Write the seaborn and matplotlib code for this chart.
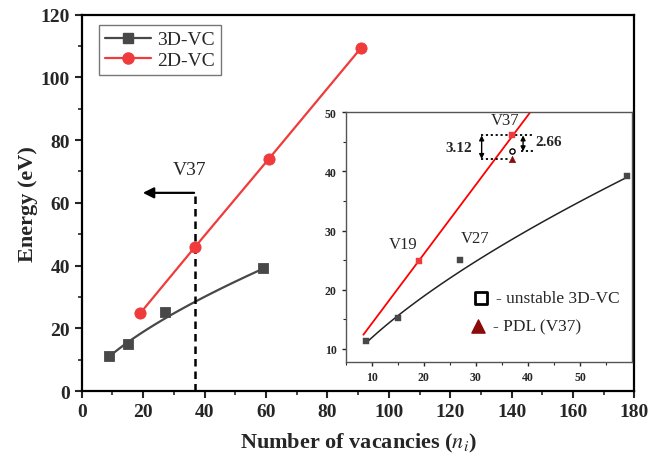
import numpy as np
import pandas as pd
import matplotlib
matplotlib.use("Agg")
import matplotlib.pyplot as plt
from matplotlib.lines import Line2D
import seaborn as sns

# ---- data ----
n_3d = [9, 15, 27, 59]
e_3d = [11.3, 15.2, 25.1, 39.3]
n_2d = [19, 37, 61, 91]
e_2d = [24.8, 46.1, 74.1, 109.4]
fit_3d_idx = [0, 1, 3]          # V27 (unstable) not used in the fit
pdl_n, pdl_e = [37], [42.1]     # PDL (V37)
unst_n, unst_e = [37], [43.4]   # unstable marker at V37
inset_2d_n = [19, 37]
inset_2d_e = [24.8, 46.1]
gap_labels = ["3.12", "2.66"]
main_xticks = [0, 20, 40, 60, 80, 100, 120, 140, 160, 180]
main_yticks = [0, 20, 40, 60, 80, 100, 120]
inset_xticks = [10, 20, 30, 40, 50]
inset_yticks = [10, 20, 30, 40, 50]

sns.set_style("ticks")
plt.rcParams["font.family"] = ["Liberation Serif", "DejaVu Serif"]
plt.rcParams["mathtext.fontset"] = "stix"

GRAY = "#484848"
RED = "#EF3B3B"

fig = plt.figure(figsize=(6.66, 4.6), dpi=100)
ax = fig.add_axes([0.1227, 0.1472, 0.8300, 0.8191])

# power-law fit for 3D-VC (log-log linear fit of read points)
lx = np.log(np.array(n_3d, float)[fit_3d_idx])
ly = np.log(np.array(e_3d, float)[fit_3d_idx])
b, a = np.polyfit(lx, ly, 1)
xs3 = np.linspace(n_3d[0], n_3d[-1], 100)
df3 = pd.DataFrame({"n": xs3, "E": np.exp(a) * xs3 ** b})

# linear fit for 2D-VC (used in inset)
m2, c2 = np.polyfit(n_2d, e_2d, 1)
xs2 = np.linspace(8.4, 55, 50)
df2fit = pd.DataFrame({"n": xs2, "E": m2 * xs2 + c2})

# ---- main axes ----
sns.lineplot(data=df3, x="n", y="E", color=GRAY, lw=1.6, ax=ax)
sns.scatterplot(x=n_3d, y=e_3d, marker="s", s=55, color=GRAY, edgecolor=GRAY, ax=ax, zorder=3)
sns.lineplot(x=n_2d, y=e_2d, color=RED, lw=1.6, ax=ax)
sns.scatterplot(x=n_2d, y=e_2d, marker="o", s=65, color=RED, edgecolor=RED, ax=ax, zorder=3)

# V37 marker line and arrow
ax.plot([37, 37], [0, 63.2], ls=(0, (3, 2)), color="black", lw=1.8, zorder=2)
ax.annotate("", xy=(19, 63.2), xytext=(37.5, 63.2),
            arrowprops=dict(arrowstyle="-|>", color="black", lw=1.6, mutation_scale=16))
ax.text(35, 68, "V37", fontsize=14, ha="center", va="bottom")

ax.set_xlim(0, 180)
ax.set_ylim(0, 120)
ax.set_xticks(main_xticks)
ax.set_yticks(main_yticks)
ax.set_xticks(np.arange(10, 180, 20), minor=True)
ax.set_yticks(np.arange(10, 120, 20), minor=True)
ax.tick_params(axis="both", which="major", direction="out", length=5, width=1.5, labelsize=14)
ax.tick_params(axis="both", which="minor", direction="out", length=3, width=1.2)
for lab in ax.get_xticklabels() + ax.get_yticklabels():
    lab.set_fontweight("bold")
for sp in ax.spines.values():
    sp.set_visible(True)
    sp.set_linewidth(1.6)
    sp.set_color("black")
ax.set_xlabel(r"Number of vacancies ($n_i$)", fontsize=16, fontweight="bold", labelpad=8)
ax.set_ylabel("Energy (eV)", fontsize=16, fontweight="bold", labelpad=2)

handles = [Line2D([0], [0], color=GRAY, lw=1.6, marker="s", markersize=7),
           Line2D([0], [0], color=RED, lw=1.6, marker="o", markersize=8)]
leg = ax.legend(handles, ["3D-VC", "2D-VC"], loc="upper left", bbox_to_anchor=(0.031, 0.972),
                borderaxespad=0, fontsize=14, frameon=True, fancybox=False, edgecolor="#555555",
                handlelength=2.4, handletextpad=0.3, borderpad=0.3, labelspacing=0.15)
leg.get_frame().set_linewidth(1.0)

# ---- inset ----
ins = fig.add_axes([0.519, 0.2102, 0.4303, 0.5435])
sns.lineplot(data=df2fit, x="n", y="E", color="red", lw=1.3, ax=ins)
sns.lineplot(data=df3, x="n", y="E", color="#222222", lw=1.1, ax=ins)
sns.scatterplot(x=n_3d, y=e_3d, marker="s", s=14, color=GRAY, edgecolor=GRAY, ax=ins, zorder=3)
sns.scatterplot(x=inset_2d_n, y=inset_2d_e, marker="s", s=14, color=RED, edgecolor=RED, ax=ins, zorder=3)
sns.scatterplot(x=pdl_n, y=pdl_e, marker="^", s=22, color="#8B0A0A", edgecolor="#8B0A0A", ax=ins, zorder=3)
sns.scatterplot(x=unst_n, y=unst_e, marker="o", s=14, facecolor="white", edgecolor="black",
                linewidth=1.0, ax=ins, zorder=3)

ins.text(16, 26.4, "V19", fontsize=12, ha="center", va="bottom")
ins.text(29.8, 27.4, "V27", fontsize=12, ha="center", va="bottom")
ins.text(35.6, 47.3, "V37", fontsize=12, ha="center", va="bottom")

dot = (0, (1.2, 1.5))
ins.plot([30.9, 40.9], [inset_2d_e[1], inset_2d_e[1]], ls=dot, color="black", lw=1.3)
ins.plot([30.9, 36.4], [pdl_e[0], pdl_e[0]], ls=dot, color="black", lw=1.3)
ins.plot([38.6, 40.9], [unst_e[0], unst_e[0]], ls=dot, color="black", lw=1.3)
ins.annotate("", xy=(31.1, pdl_e[0]), xytext=(31.1, inset_2d_e[1]),
             arrowprops=dict(arrowstyle="<|-|>", color="black", lw=1.0, mutation_scale=7,
                             shrinkA=0, shrinkB=0))
ins.annotate("", xy=(39.05, unst_e[0]), xytext=(39.05, inset_2d_e[1]),
             arrowprops=dict(arrowstyle="<|-|>", color="black", lw=1.0, mutation_scale=7,
                             shrinkA=0, shrinkB=0))
ins.text(29.3, 44.0, gap_labels[0], fontsize=11, fontweight="bold", ha="right", va="center")
ins.text(41.4, 45.1, gap_labels[1], fontsize=11, fontweight="bold", ha="left", va="center")

# inset legend (text markers)
ins.scatter([30.9], [18.6], marker="s", s=70, facecolor="white", edgecolor="black", linewidth=2.0,
            zorder=4)
ins.text(33.9, 18.6, "- unstable 3D-VC", fontsize=12.5, ha="left", va="center")
ins.scatter([30.4], [13.9], marker="^", s=90, color="#8B0A0A", zorder=4)
ins.text(33.3, 13.9, "- PDL (V37)", fontsize=12.5, ha="left", va="center")

ins.set_xlim(5.9, 60)
ins.set_ylim(7.75, 50)
ins.set_xticks(inset_xticks)
ins.set_yticks(inset_yticks)
ins.set_xticks(np.arange(5, 60, 10), minor=True)
ins.set_yticks(np.arange(15, 50, 10), minor=True)
ins.tick_params(axis="both", which="major", direction="out", length=3, width=1.0, labelsize=8.5)
ins.tick_params(axis="both", which="minor", direction="out", length=2, width=0.8)
for lab in ins.get_xticklabels() + ins.get_yticklabels():
    lab.set_fontweight("bold")
for sp in ins.spines.values():
    sp.set_visible(True)
    sp.set_linewidth(1.0)
    sp.set_color("#555555")
ins.set_xlabel("")
ins.set_ylabel("")
if ins.get_legend():
    ins.get_legend().remove()

fig.savefig("out.png", dpi=100)
